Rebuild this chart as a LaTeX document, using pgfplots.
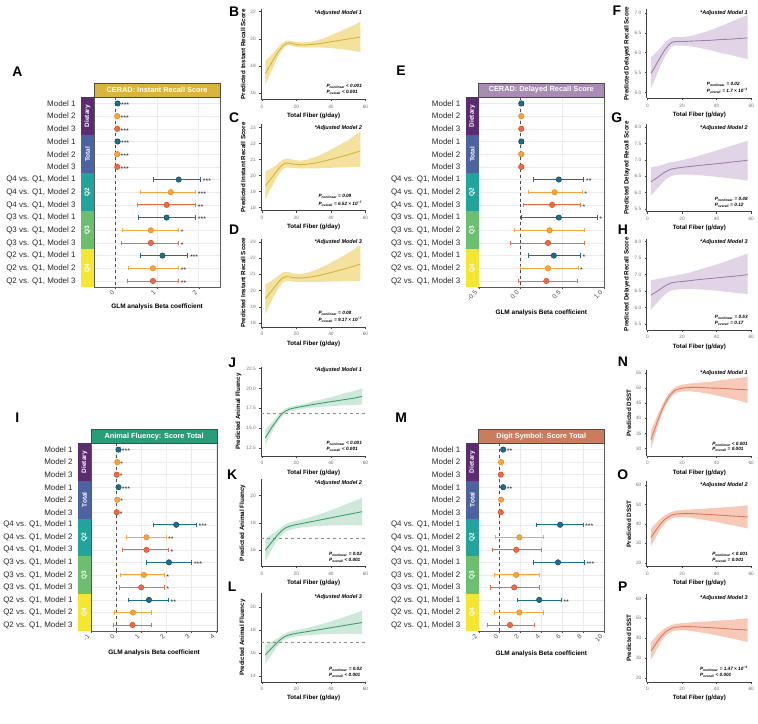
\documentclass[border=0pt]{standalone}
\usepackage{pgfplots}
\pgfplotsset{compat=1.18}
\usepackage{pgfplotstable}
\usepgfplotslibrary{fillbetween}
\usepackage{fontspec}
\setmainfont{Liberation Sans}

\newcommand{\fs}[1]{\fontsize{#1}{#1}\selectfont}

% group strips and model colours
\definecolor{cDiet}{HTML}{5B2C6F}
\definecolor{cTot}{HTML}{4B64A1}
\definecolor{cQa}{HTML}{22A39B}
\definecolor{cQb}{HTML}{6CBF6E}
\definecolor{cQc}{HTML}{F6E634}
\definecolor{cMa}{HTML}{1D6F8B}
\definecolor{cMad}{HTML}{14506A}
\definecolor{cMb}{HTML}{F5A640}
\definecolor{cMbd}{HTML}{E88A20}
\definecolor{cMc}{HTML}{EC6B46}
\definecolor{cMcd}{HTML}{D9522C}
% outcome colours
\definecolor{hIR}{HTML}{D8B53D}
\definecolor{hDR}{HTML}{A98BB4}
\definecolor{hAF}{HTML}{2B9C7A}
\definecolor{hDS}{HTML}{C97C5E}
\definecolor{lIR}{HTML}{D6B23F}
\definecolor{bIR}{HTML}{F1DC8C}
\definecolor{lDR}{HTML}{9F80AA}
\definecolor{bDR}{HTML}{DDCCE3}
\definecolor{lAF}{HTML}{3C9D70}
\definecolor{bAF}{HTML}{C5E4D2}
\definecolor{lDS}{HTML}{D97A5B}
\definecolor{bDS}{HTML}{F6BFAB}

% ---------------- GLM estimates: row, beta, lower, upper, model, number of stars, stars
\pgfplotstableread{
row b lo hi m n star
1 0.05 0.02 0.08 1 3 ***
2 0.04 0.01 0.07 2 3 ***
3 0.04 0.01 0.07 3 3 ***
4 0.05 0.02 0.08 1 3 ***
5 0.04 0.01 0.07 2 3 ***
6 0.04 0.01 0.07 3 3 ***
7 1.52 0.92 2.05 1 3 ***
8 1.33 0.61 1.93 2 3 ***
9 1.23 0.53 1.93 3 2 **
10 1.23 0.55 1.93 1 3 ***
11 0.85 0.17 1.52 2 1 *
12 0.85 0.13 1.52 3 1 *
13 1.13 0.61 1.74 1 3 ***
14 0.90 0.31 1.52 2 2 **
15 0.90 0.29 1.52 3 2 **
}\tA
\pgfplotstableread{
row b lo hi m n star
1 0.01 -0.01 0.03 1 0 ns
2 0.01 -0.01 0.03 2 0 ns
3 0.01 -0.01 0.03 3 0 ns
4 0.01 -0.01 0.03 1 0 ns
5 0.01 -0.01 0.03 2 0 ns
6 0.01 -0.01 0.03 3 0 ns
7 0.46 0.15 0.76 1 2 **
8 0.41 0.09 0.74 2 1 *
9 0.38 0.04 0.72 3 1 *
10 0.46 0.01 0.92 1 1 *
11 0.35 -0.07 0.77 2 0 ns
12 0.33 -0.12 0.77 3 0 ns
13 0.40 0.10 0.72 1 1 *
14 0.33 0.00 0.69 2 1 *
15 0.31 -0.02 0.68 3 0 ns
}\tE
\pgfplotstableread{
row b lo hi m n star
1 0.10 0.05 0.15 1 3 ***
2 0.05 0.01 0.09 2 1 *
3 0.03 -0.01 0.07 3 1 *
4 0.10 0.05 0.15 1 3 ***
5 0.05 0.01 0.09 2 1 *
6 0.03 -0.01 0.07 3 1 *
7 2.41 1.51 3.22 1 3 ***
8 1.22 0.40 2.00 2 2 **
9 1.22 0.26 2.10 3 1 *
10 2.12 1.22 3.03 1 3 ***
11 1.12 0.17 1.93 2 1 *
12 1.01 0.13 1.93 3 1 *
13 1.32 0.50 2.10 1 2 **
14 0.68 -0.07 1.41 2 0 ns
15 0.66 -0.11 1.41 3 0 ns
}\tI
\pgfplotstableread{
row b lo hi m n star
1 0.35 0.20 0.50 1 2 **
2 0.15 0.00 0.30 2 0 ns
3 0.12 -0.03 0.27 3 0 ns
4 0.35 0.20 0.50 1 2 **
5 0.15 0.00 0.30 2 0 ns
6 0.12 -0.03 0.27 3 0 ns
7 5.80 3.50 8.00 1 3 ***
8 1.90 -0.40 4.20 2 0 ns
9 1.60 -0.70 4.00 3 0 ns
10 5.60 3.20 8.10 1 3 ***
11 1.60 -0.50 3.80 2 0 ns
12 1.40 -0.90 3.80 3 0 ns
13 3.80 1.70 5.90 1 2 **
14 1.90 -0.50 4.20 2 0 ns
15 1.00 -1.20 3.30 3 0 ns
}\tM

% ---------------- spline predictions: fibre, fit, lower, upper
\pgfplotstableread{
x fit lo hi
2 17.44 16.64 18.34
4 17.88 17.18 18.62
6 18.32 17.76 18.90
8 18.75 18.33 19.18
10 19.14 18.84 19.46
12 19.45 19.22 19.70
14 19.66 19.47 19.86
16 19.70 19.53 19.88
18 19.64 19.47 19.82
20 19.58 19.40 19.77
24 19.55 19.37 19.74
30 19.60 19.38 19.83
36 19.70 19.36 20.05
42 19.83 19.30 20.38
48 19.95 19.22 20.70
54 20.07 19.10 21.05
57 20.15 19.02 21.27
}\cB
\pgfplotstableread{
x fit lo hi
2 19.35 18.50 20.25
4 19.62 18.95 20.35
6 19.90 19.35 20.48
8 20.18 19.75 20.62
10 20.45 20.10 20.82
12 20.68 20.38 20.98
14 20.78 20.50 21.05
16 20.76 20.50 21.03
18 20.72 20.47 20.98
22 20.68 20.45 20.92
26 20.70 20.45 20.98
32 20.80 20.45 21.20
38 20.95 20.47 21.50
44 21.12 20.50 21.85
50 21.30 20.52 22.20
57 21.53 20.55 22.75
}\cC
\pgfplotstableread{
x fit lo hi
2 19.50 18.55 20.40
4 19.76 19.00 20.50
6 20.02 19.45 20.62
8 20.30 19.85 20.78
10 20.56 20.20 20.95
12 20.78 20.48 21.10
14 20.86 20.58 21.15
16 20.84 20.58 21.12
18 20.80 20.55 21.06
22 20.77 20.52 21.02
26 20.80 20.52 21.08
32 20.90 20.52 21.30
38 21.05 20.55 21.60
44 21.22 20.57 21.95
50 21.40 20.58 22.30
57 21.62 20.60 22.80
}\cD
\pgfplotstableread{
x fit lo hi
2 5.48 5.10 5.88
4 5.62 5.30 5.96
6 5.78 5.52 6.05
8 5.93 5.72 6.15
10 6.07 5.90 6.25
12 6.18 6.04 6.33
14 6.26 6.15 6.38
16 6.28 6.18 6.39
20 6.28 6.18 6.39
25 6.29 6.16 6.42
30 6.30 6.12 6.48
36 6.31 6.07 6.56
42 6.33 6.00 6.66
48 6.34 5.94 6.77
54 6.36 5.88 6.88
58 6.37 5.84 6.95
}\cF
\pgfplotstableread{
x fit lo hi
2 6.33 5.91 6.77
4 6.40 6.02 6.79
6 6.47 6.14 6.81
8 6.55 6.26 6.84
10 6.62 6.37 6.87
12 6.68 6.45 6.91
14 6.72 6.51 6.93
16 6.74 6.53 6.95
20 6.77 6.55 6.99
25 6.80 6.55 7.05
30 6.83 6.53 7.13
36 6.86 6.50 7.22
42 6.89 6.47 7.32
48 6.93 6.43 7.42
54 6.96 6.39 7.52
58 6.99 6.36 7.58
}\cG
\pgfplotstableread{
x fit lo hi
2 6.38 5.93 6.83
4 6.44 6.05 6.85
6 6.51 6.17 6.87
8 6.58 6.29 6.89
10 6.65 6.39 6.91
12 6.71 6.47 6.93
14 6.75 6.52 6.95
16 6.77 6.54 6.97
20 6.79 6.56 7.01
25 6.82 6.56 7.07
30 6.85 6.55 7.15
36 6.88 6.53 7.24
42 6.91 6.50 7.34
48 6.94 6.46 7.45
54 6.97 6.43 7.56
58 7.00 6.41 7.64
}\cH
\pgfplotstableread{
x fit lo hi
2 13.80 12.90 14.80
4 14.50 13.80 15.30
6 15.20 14.60 15.80
8 15.80 15.40 16.30
10 16.40 16.00 16.80
12 16.90 16.60 17.20
14 17.20 16.90 17.50
16 17.40 17.10 17.70
20 17.60 17.30 17.90
25 17.80 17.50 18.10
30 18.00 17.60 18.40
36 18.20 17.70 18.70
42 18.40 17.80 19.00
48 18.60 17.90 19.40
54 18.80 17.90 19.70
58 19.00 18.00 20.00
}\cJ
\pgfplotstableread{
x fit lo hi
2 16.00 15.20 16.80
4 16.32 15.65 17.00
6 16.64 16.10 17.18
8 16.95 16.55 17.36
10 17.24 16.92 17.55
12 17.48 17.20 17.75
14 17.65 17.38 17.92
16 17.75 17.48 18.02
20 17.88 17.60 18.16
25 18.00 17.70 18.30
30 18.12 17.75 18.50
36 18.27 17.80 18.75
42 18.42 17.82 19.02
48 18.57 17.83 19.32
54 18.72 17.83 19.62
58 18.82 17.82 19.85
}\cK
\pgfplotstableread{
x fit lo hi
2 15.85 15.05 16.65
4 16.17 15.50 16.85
6 16.49 15.95 17.03
8 16.80 16.40 17.21
10 17.09 16.77 17.40
12 17.33 17.05 17.60
14 17.50 17.23 17.77
16 17.60 17.33 17.87
20 17.73 17.45 18.01
25 17.85 17.55 18.15
30 17.97 17.60 18.35
36 18.12 17.65 18.60
42 18.27 17.67 18.87
48 18.42 17.68 19.17
54 18.57 17.68 19.47
58 18.67 17.67 19.70
}\cL
\pgfplotstableread{
x fit lo hi
2 33.0 30.0 36.0
4 36.2 33.8 38.6
6 39.4 37.5 41.3
8 42.3 40.8 43.8
10 44.8 43.5 46.1
12 46.8 45.7 47.9
14 48.3 47.3 49.3
16 49.3 48.3 50.3
20 50.0 48.9 51.1
25 50.2 48.9 51.5
30 50.2 48.6 51.8
36 50.0 48.0 52.0
42 49.9 47.3 52.5
48 49.7 46.5 53.0
54 49.5 45.7 53.4
58 49.4 45.0 53.8
}\cN
\pgfplotstableread{
x fit lo hi
2 33.0 28.5 37.5
4 35.6 31.8 39.4
6 38.2 35.0 41.4
8 40.5 38.0 43.0
10 42.3 40.2 44.4
12 43.6 41.8 45.4
14 44.5 42.8 46.2
16 45.0 43.3 46.7
20 45.3 43.5 47.1
25 45.3 43.2 47.4
30 45.1 42.5 47.7
36 44.8 41.6 48.0
42 44.5 40.6 48.4
48 44.1 39.5 48.7
54 43.8 38.4 49.2
58 43.6 37.6 49.6
}\cO
\pgfplotstableread{
x fit lo hi
2 33.5 29.0 38.0
4 36.1 32.3 39.9
6 38.7 35.5 41.9
8 41.0 38.5 43.5
10 42.8 40.7 44.9
12 44.1 42.3 45.9
14 45.0 43.3 46.7
16 45.5 43.8 47.2
20 45.8 44.0 47.6
25 45.8 43.7 47.9
30 45.6 43.0 48.2
36 45.3 42.1 48.5
42 45.0 41.1 48.9
48 44.6 40.0 49.2
54 44.3 38.9 49.7
58 44.1 38.1 50.1
}\cP

\pgfplotsset{
  forest/.style={
    scale only axis, anchor=north west, clip=false,
    y dir=reverse, ymin=0.5, ymax=15.5, ytick={1,...,15},
    yticklabels={Model 1,Model 2,Model 3,Model 1,Model 2,Model 3,
      {Q4 vs. Q1, Model 1},{Q4 vs. Q1, Model 2},{Q4 vs. Q1, Model 3},
      {Q3 vs. Q1, Model 1},{Q3 vs. Q1, Model 2},{Q3 vs. Q1, Model 3},
      {Q2 vs. Q1, Model 1},{Q2 vs. Q1, Model 2},{Q2 vs. Q1, Model 3}},
    yticklabel style={font=\fs{8}, text=black!85, anchor=east, xshift=-13pt},
    ytick style={draw=none},
    xtick style={black!70},
    xticklabel style={font=\fs{6.5}, text=black!70, rotate=45, anchor=east},
    xmajorgrids, ymajorgrids, grid style={black!8, line width=0.5pt},
    axis line style={black!65, line width=0.6pt},
    xlabel={GLM analysis Beta coefficient},
    xlabel style={font=\bfseries\fs{6.5}},
    tick align=outside, major tick length=2pt,
    /pgf/number format/assume math mode=true,
  },
  mod/.style n args={4}{only marks, mark=*, mark size=2.7pt,
    restrict expr to domain={\thisrow{m}}{#1:#1},
    mark options={fill=#2, draw=#3, line width=0.6pt},
    error bars/.cd, x dir=both, x explicit, error mark=|,
    error bar style={#4, line width=0.8pt},
    error mark options={#4, line width=0.8pt, mark size=2.2pt}},
  starlbl/.style={draw=none, mark=none, nodes near coords,
    restrict expr to domain={\thisrow{n}}{1:3},
    point meta=explicit symbolic,
    every node near coord/.append style={anchor=west, font=\fs{7}, inner sep=2pt, yshift=-1.8pt, text=black!85}},
  curve/.style={
    scale only axis, anchor=north west, width=106pt,
    xmin=-0.5, xmax=60.5, xtick={0,20,40,60},
    axis x line*=bottom, axis y line*=left,
    axis line style={black!75, line width=0.5pt},
    tick style={black!75, line width=0.4pt}, tick align=outside, major tick length=1.8pt,
    ticklabel style={font=\fs{4.8}, text=black!55},
    xlabel={Total Fiber (g/day)}, xlabel style={font=\bfseries\fs{6.2}, yshift=2pt},
    ylabel style={font=\bfseries\fs{6.3}, yshift=-2pt},
    /pgf/number format/assume math mode=true,
  },
}

\newcommand{\forestplots}[1]{%
  \addplot[black!70, dashed, line width=0.5pt] coordinates {(0,0.5) (0,15.5)};
  \addplot[mod={1}{cMa}{cMad}{cMa}] table[x=b, y=row,
    x error plus expr=\thisrow{hi}-\thisrow{b}, x error minus expr=\thisrow{b}-\thisrow{lo}] {#1};
  \addplot[mod={2}{cMb}{cMbd}{cMb}] table[x=b, y=row,
    x error plus expr=\thisrow{hi}-\thisrow{b}, x error minus expr=\thisrow{b}-\thisrow{lo}] {#1};
  \addplot[mod={3}{cMc}{cMcd}{cMc}] table[x=b, y=row,
    x error plus expr=\thisrow{hi}-\thisrow{b}, x error minus expr=\thisrow{b}-\thisrow{lo}] {#1};
  \addplot[starlbl] table[x=hi, y=row, meta=star] {#1};
}
\newcommand{\band}[3]{%
  \addplot[name path=up, draw=none] table[x=x, y=hi] {#1};
  \addplot[name path=dn, draw=none] table[x=x, y=lo] {#1};
  \addplot[fill=#3, draw=none, fill opacity=0.85] fill between[of=up and dn];
  \addplot[#2, line width=0.9pt] table[x=x, y=fit] {#1};
}
\newcommand{\adj}[1]{\node[anchor=north east, font=\bfseries\itshape\fs{5.5}, inner sep=0pt]
  at (rel axis cs:0.96,0.99) {*Adjusted Model #1};}
\newcommand{\pv}[2]{\node[anchor=south east, align=left, font=\bfseries\itshape\fs{4.7}, inner sep=0pt]
  at (rel axis cs:0.96,0.05) {P\textsubscript{nonlinear} #1\\[1pt]P\textsubscript{overall} #2};}

% strips and header of a forest panel: x0, x1, y0, y1, colour, title
\newcommand{\forestdeco}[6]{%
  \pgfmathsetmacro\gh{(#4-#3)/5}%
  \fill[cDiet] (#1-13,#3) rectangle (#1,#3+\gh);
  \fill[cTot] (#1-13,#3+\gh) rectangle (#1,#3+2*\gh);
  \fill[cQa] (#1-13,#3+2*\gh) rectangle (#1,#3+3*\gh);
  \fill[cQb] (#1-13,#3+3*\gh) rectangle (#1,#3+4*\gh);
  \fill[cQc] (#1-13,#3+4*\gh) rectangle (#1,#4);
  \foreach \t [count=\k] in {Dietary,Total,Q2,Q3,Q4}
    \node[rotate=90, text=white, font=\bfseries\fs{6.5}, inner sep=0pt] at (#1-6.5,#3+\k*\gh-0.5*\gh) {\t};
  \draw[fill=#5, draw=black!70, line width=0.4pt] (#1,#3-14.5) rectangle (#2,#3);
  \node[text=white, font=\bfseries\fs{7.4}, inner sep=0pt] at ({(#1+#2)/2},#3-7.2) {#6};
}

\begin{document}
\begin{tikzpicture}
\begin{scope}[x=1pt, y=-1pt]
  \path[use as bounding box] (0,0) rectangle (758,728);
  \coordinate (pA) at (90,97.7);
  \coordinate (pE) at (477,97.7);
  \coordinate (pI) at (87,446);
  \coordinate (pM) at (477,446);
  \coordinate (pB) at (258,9);
  \coordinate (pC) at (258,125);
  \coordinate (pD) at (258,240);
  \coordinate (pF) at (646,9);
  \coordinate (pG) at (646,125);
  \coordinate (pH) at (646,240);
  \coordinate (pJ) at (258,369);
  \coordinate (pK) at (258,482);
  \coordinate (pL) at (258,597);
  \coordinate (pN) at (646,372);
  \coordinate (pO) at (646,484);
  \coordinate (pP) at (646,598);
\end{scope}

% ---------------- forest panels
\begin{axis}[forest, at={(pA)}, width=127pt, height=191.3pt,
  xmin=-0.52, xmax=2.52, xtick={0,1,2}]
  \forestplots{\tA}
\end{axis}
\begin{axis}[forest, at={(pE)}, width=126pt, height=191.3pt,
  xmin=-0.5, xmax=1.0, xtick={-0.5,0,0.5,1}, xticklabels={-0.5,0.0,0.5,1.0}]
  \forestplots{\tE}
\end{axis}
\begin{axis}[forest, at={(pI)}, width=127pt, height=189pt,
  xmin=-1, xmax=4.05, xtick={-1,0,...,4}]
  \forestplots{\tI}
\end{axis}
\begin{axis}[forest, at={(pM)}, width=126pt, height=189pt,
  xmin=-2, xmax=10, xtick={-2,0,...,10}]
  \forestplots{\tM}
\end{axis}

% ---------------- spline panels
\begin{axis}[curve, at={(pB)}, height=91pt, ymin=15.55, ymax=22.2, ytick={16,18,20,22},
  ylabel={Predicted Instant Recall Score}]
  \band{\cB}{lIR}{bIR}
  \adj{1}\pv{< 0.001}{< 0.001}
\end{axis}
\begin{axis}[curve, at={(pC)}, height=87pt, ymin=17.8, ymax=23.2, ytick={18,...,23},
  ylabel={Predicted Instant Recall Score}]
  \band{\cC}{lIR}{bIR}
  \adj{2}\pv{= 0.09}{= 6.52 × 10\textsuperscript{−7}}
\end{axis}
\begin{axis}[curve, at={(pD)}, height=89pt, ymin=17.75, ymax=23.2, ytick={18,...,23},
  ylabel={Predicted Instant Recall Score}]
  \band{\cD}{lIR}{bIR}
  \adj{3}\pv{= 0.08}{= 9.17 × 10\textsuperscript{−7}}
\end{axis}
\begin{axis}[curve, at={(pF)}, height=90pt, ymin=4.85, ymax=7.1, ytick={5,5.5,...,7},
  yticklabel style={/pgf/number format/.cd, fixed, fixed zerofill, precision=1},
  ylabel={Predicted Delayed Recall Score}]
  \band{\cF}{lDR}{bDR}
  \adj{1}\pv{= 0.02}{= 1.7 × 10\textsuperscript{−3}}
\end{axis}
\begin{axis}[curve, at={(pG)}, height=88pt, ymin=5.41, ymax=8.09, ytick={5.5,6,...,8},
  yticklabel style={/pgf/number format/.cd, fixed, fixed zerofill, precision=1},
  ylabel={Predicted Delayed Recall Score}]
  \band{\cG}{lDR}{bDR}
  \adj{2}\pv{= 0.48}{= 0.12}
\end{axis}
\begin{axis}[curve, at={(pH)}, height=92pt, ymin=5.32, ymax=8.09, ytick={5.5,6,...,8},
  yticklabel style={/pgf/number format/.cd, fixed, fixed zerofill, precision=1},
  ylabel={Predicted Delayed Recall Score}]
  \band{\cH}{lDR}{bDR}
  \adj{3}\pv{= 0.53}{= 0.17}
\end{axis}
\begin{axis}[curve, at={(pJ)}, height=90pt, ymin=11.5, ymax=22.7, ytick={12.5,15,...,22.5},
  yticklabel style={/pgf/number format/.cd, fixed, fixed zerofill, precision=1},
  ylabel={Predicted Animal Fluency}]
  \addplot[black!45, dashed, line width=0.4pt] coordinates {(-0.5,16.9) (60.5,16.9)};
  \band{\cJ}{lAF}{bAF}
  \adj{1}\pv{< 0.001}{< 0.001}
\end{axis}
\begin{axis}[curve, at={(pK)}, height=88pt, ymin=14.8, ymax=21.2, ytick={16,18,20},
  ylabel={Predicted Animal Fluency}]
  \addplot[black!45, dashed, line width=0.4pt] coordinates {(-0.5,16.9) (60.5,16.9)};
  \band{\cK}{lAF}{bAF}
  \adj{2}\pv{= 0.02}{< 0.001}
\end{axis}
\begin{axis}[curve, at={(pL)}, height=89pt, ymin=13.5, ymax=21.2, ytick={14,16,18,20},
  ylabel={Predicted Animal Fluency}]
  \addplot[black!45, dashed, line width=0.4pt] coordinates {(-0.5,17.0) (60.5,17.0)};
  \band{\cL}{lAF}{bAF}
  \adj{3}\pv{= 0.02}{< 0.001}
\end{axis}
\begin{axis}[curve, at={(pN)}, height=87pt, ymin=27.5, ymax=56, ytick={30,35,...,55},
  ylabel={Predicted DSST}]
  \band{\cN}{lDS}{bDS}
  \adj{1}\pv{< 0.001}{= 0.001}
\end{axis}
\begin{axis}[curve, at={(pO)}, height=86pt, ymin=18, ymax=62, ytick={20,30,...,60},
  ylabel={Predicted DSST}]
  \band{\cO}{lDS}{bDS}
  \adj{2}\pv{< 0.001}{= 0.001}
\end{axis}
\begin{axis}[curve, at={(pP)}, height=88pt, ymin=18, ymax=62, ytick={20,30,...,60},
  ylabel={Predicted DSST}]
  \band{\cP}{lDS}{bDS}
  \adj{3}\pv{= 1.47 × 10\textsuperscript{−3}}{< 0.001}
\end{axis}

% ---------------- strips, headers and panel letters
\begin{scope}[x=1pt, y=-1pt]
  \forestdeco{90}{217}{97.7}{289}{hIR}{CERAD: Instant Recall Score}
  \forestdeco{477}{603}{97.7}{289}{hDR}{CERAD: Delayed Recall Score}
  \forestdeco{87}{214}{446}{635}{hAF}{Animal Fluency: Score Total}
  \forestdeco{477}{603}{446}{635}{hDS}{Digit Symbol: Score Total}
  \tikzset{lett/.style={font=\bfseries\fs{14}, inner sep=0pt}}
  \node[lett] at (13,72) {A};
  \node[lett] at (231,12) {B};
  \node[lett] at (231,118) {C};
  \node[lett] at (231,231) {D};
  \node[lett] at (399,71) {E};
  \node[lett] at (616,11) {F};
  \node[lett] at (616,118) {G};
  \node[lett] at (622,231) {H};
  \node[lett] at (13,420) {I};
  \node[lett] at (229,365) {J};
  \node[lett] at (229,478) {K};
  \node[lett] at (229,590) {L};
  \node[lett] at (399,420) {M};
  \node[lett] at (622,364) {N};
  \node[lett] at (622,478) {O};
  \node[lett] at (622,590) {P};
\end{scope}
\end{tikzpicture}
\end{document}
